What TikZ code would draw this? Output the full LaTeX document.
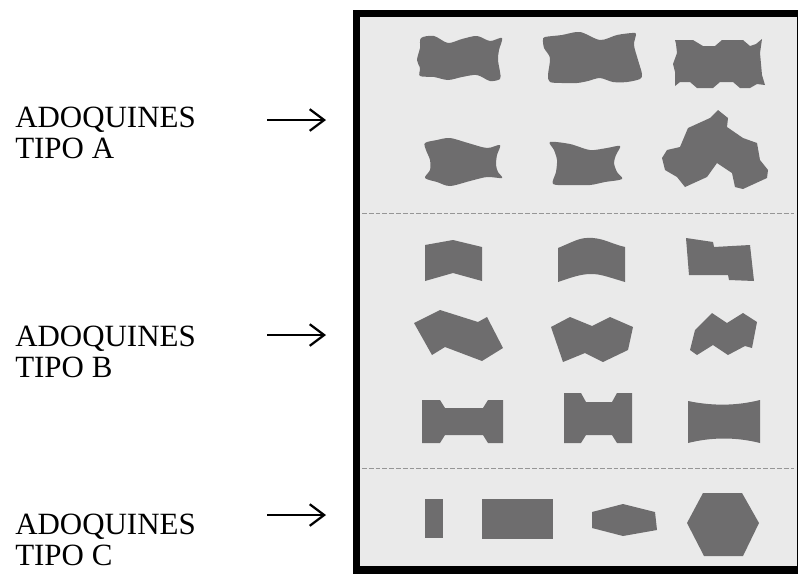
\documentclass[tikz,border=0pt]{standalone}
\usepackage{fontspec}
\setmainfont{Liberation Serif}
\usetikzlibrary{arrows.meta}

\definecolor{fondo}{RGB}{234,234,234}
\definecolor{pieza}{RGB}{110,109,110}
\definecolor{raya}{RGB}{150,150,150}

\tikzset{
	pz/.style={fill=pieza, draw=none},
	tipotext/.style={anchor=base west, align=left, inner sep=0pt,
		font=\fontsize{22pt}{22pt}\selectfont},
	flecha/.style={-{Straight Barb[length=3.6mm,width=5.4mm]}, line width=1.6pt},
	divisor/.style={draw=raya, line width=0.6pt, dash pattern=on 1.2mm off 0.5mm}
}

\begin{document}
\begin{tikzpicture}[x=0.025cm, y=-0.025cm]

	\useasboundingbox (0,0) rectangle (798,574);

	% marco
	\filldraw[fill=fondo, line width=5pt] (356.5,13.5) rectangle (801,570);
	\draw[divisor] (362,213) -- (794,213);
	\draw[divisor] (362,468) -- (794,468);

	% rotulos
	\node[tipotext] (labA) at (15,158) {ADOQUINES\\TIPO A};
	\node[tipotext] (labB) at (15,377) {ADOQUINES\\TIPO B};
	\node[tipotext] (labC) at (15,565) {ADOQUINES\\TIPO C};

	\coordinate (fA0) at (267,120);
	\coordinate (fA1) at (326,120);
	\coordinate (fB0) at (267,335);
	\coordinate (fB1) at (326,335);
	\coordinate (fC0) at (267,515);
	\coordinate (fC1) at (326,515);

	\path[flecha]
	(fA0) edge (fA1)
	(fB0) edge (fB1)
	(fC0) edge (fC1);

	% tipo A
	\fill[pz] plot[smooth cycle, tension=0.5] coordinates {
		(421,38) (434,36) (448,43) (462,39) (477,36) (490,41) (502,38)
		(499,50) (498,60) (500,72) (500,79)
		(490,81) (477,75) (462,77) (448,80) (434,77) (420,76)
		(420,68) (417,60) (420,48)};
	\fill[pz] plot[smooth cycle, tension=0.5] coordinates {
		(545,37) (562,35) (580,32) (600,40) (617,35) (632,33) (636,34)
		(634,45) (638,60) (642,74) (640,79)
		(627,82) (613,82) (600,78) (588,81) (577,83) (562,83) (550,82)
		(548,75) (550,58) (544,48) (543,40)};
	\fill[pz] (675,40) -- (693,40) -- (703,46) -- (715,46) -- (722,40) -- (743,40)
		-- (750,46) -- (756,44) -- (762,39) -- (760,53) -- (762,75) -- (765,85)
		-- (757,84) -- (750,88) -- (740,88) -- (733,82) -- (720,82) -- (713,88)
		-- (697,88) -- (690,82) -- (680,82) -- (675,86) -- (675,72) -- (673,64)
		-- (677,53) -- (676,44) -- cycle;

	\fill[pz] plot[smooth cycle, tension=0.5] coordinates {
		(425,143) (437,140) (450,138) (468,143) (487,148) (500,145)
		(497,155) (496,165) (498,172) (502,178)
		(487,177) (470,181) (450,186) (437,182) (425,178)
		(430,170) (430,160) (426,150)};
	\fill[pz] plot[smooth cycle, tension=0.5] coordinates {
		(550,142) (570,144) (590,150) (607,148) (620,146)
		(616,155) (614,163) (617,172) (622,179)
		(605,182) (590,185) (570,185) (553,184)
		(556,172) (557,160) (554,150)};
	\fill[pz] (662,158) -- (667,150) -- (680,147) -- (688,128) -- (710,118)
		-- (718,110) -- (728,118) -- (727,127) -- (743,138) -- (757,143)
		-- (760,160) -- (768,170) -- (767,178) -- (743,189) -- (735,187)
		-- (732,173) -- (717,163) -- (707,177) -- (685,187) -- (677,177)
		-- (665,170) -- cycle;

	% tipo B
	\fill[pz] (425,245) -- (453,240) -- (482,247) -- (482,281) -- (453,273)
		-- (425,281) -- cycle;
	\fill[pz] (558,248) .. controls (575,241) and (580,237) .. (593,238)
		.. controls (605,239) and (612,244) .. (625,247) -- (625,282)
		.. controls (605,276) and (600,274) .. (591,274)
		.. controls (580,274) and (570,278) .. (558,282) -- cycle;
	\fill[pz] (686,238) -- (713,242) -- (714,247) -- (750,245) -- (754,281)
		-- (729,280) -- (728,275) -- (689,275) -- cycle;

	\fill[pz] (414,323) -- (440,310) -- (478,322) -- (487,317) -- (503,348)
		-- (482,361) -- (445,347) -- (432,355) -- cycle;
	\fill[pz] (551,327) -- (570,317) -- (592,326) -- (610,317) -- (633,327)
		-- (628,350) -- (603,362) -- (585,353) -- (563,362) -- cycle;
	\fill[pz] (695,330) -- (712,313) -- (727,323) -- (743,313) -- (757,322)
		-- (752,348) -- (745,346) -- (728,355) -- (713,345) -- (697,355)
		-- (690,350) -- cycle;

	\fill[pz] (422,400) -- (440,400) -- (445,408) -- (483,408) -- (488,400)
		-- (503,400) -- (503,443) -- (488,443) -- (483,435) -- (445,435)
		-- (440,443) -- (422,443) -- cycle;
	\fill[pz] (564,393) -- (581,393) -- (586,402) -- (612,402) -- (617,393)
		-- (632,393) -- (632,443) -- (617,443) -- (612,435) -- (586,435)
		-- (581,443) -- (564,443) -- cycle;
	\fill[pz] (688,401) .. controls (712,406) and (736,406) .. (760,400)
		-- (760,443) .. controls (736,437) and (712,437) .. (688,443) -- cycle;

	% tipo C
	\fill[pz] (425,499) rectangle (443,538);
	\fill[pz] (482,499) rectangle (553,539);
	\fill[pz] (592,512) -- (623,504) -- (655,512) -- (657,530) -- (623,536)
		-- (592,528) -- cycle;
	\fill[pz] (703,493) -- (742,493) -- (759,523) -- (743,556) -- (704,556)
		-- (687,523) -- cycle;

\end{tikzpicture}
\end{document}
